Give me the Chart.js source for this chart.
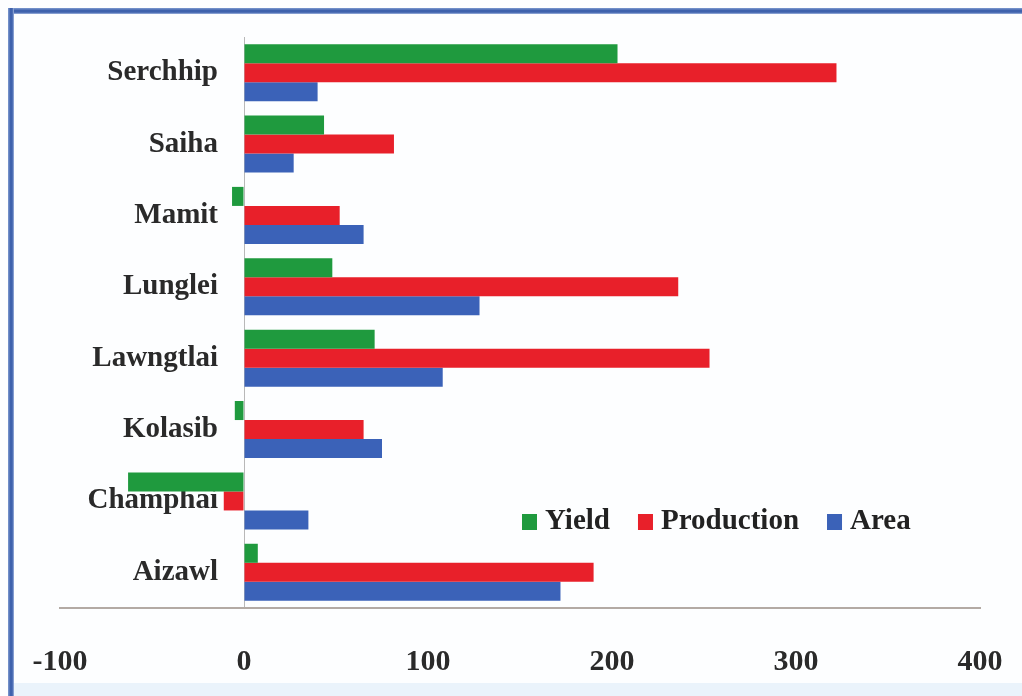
<!DOCTYPE html>
<html>
<head>
<meta charset="utf-8">
<script src="https://cdn.jsdelivr.net/npm/chart.js@4"></script>
<style>
  html, body { margin: 0; padding: 0; background: #ffffff; }
  #wrap { position: relative; width: 1022px; height: 696px; overflow: hidden; background: #fdfeff; }
  #frameTop { position: absolute; left: 8px; top: 8px; width: 1014px; height: 6px; background: linear-gradient(#7f9bd0, #3f62ad 40%, #3f62ad 70%, #9fb4de); }
  #frameLeft { position: absolute; left: 8px; top: 8px; width: 6px; height: 688px; background: linear-gradient(90deg, #7f9bd0, #3f62ad 40%, #3f62ad 70%, #9fb4de); }
  #bottomBand { position: absolute; left: 14px; top: 683px; width: 1008px; height: 13px; background: #eaf3fb; }
  canvas { position: absolute; left: 0; top: 0; }
</style>
</head>
<body>
<div id="wrap">
  <div id="bottomBand"></div>
  <div id="frameTop"></div>
  <div id="frameLeft"></div>
  <canvas id="c" width="1022" height="696"></canvas>
</div>
<script>
const districts = ["Serchhip", "Saiha", "Mamit", "Lunglei", "Lawngtlai", "Kolasib", "Champhai", "Aizawl"];
const yieldValues = [203, 43.5, -6.5, 48, 71, -5, -63, 7.5];
const productionValues = [322, 81.5, 52, 236, 253, 65, -11, 190];
const areaValues = [40, 27, 65, 128, 108, 75, 35, 172];
const xTickMin = -100;
const xTickMax = 400;
const xTickStep = 100;

const serif = "'Liberation Serif', 'Times New Roman', serif";

const insideLegend = {
  id: 'insideLegend',
  afterDraw(chart) {
    const ctx = chart.ctx;
    const area = chart.chartArea;
    ctx.save();
    ctx.font = "bold 29px " + serif;
    ctx.textBaseline = 'middle';
    ctx.textAlign = 'left';
    let x = area.left + 462;
    const y = area.top + 485;
    chart.data.datasets.forEach((ds) => {
      ctx.fillStyle = ds.backgroundColor;
      ctx.fillRect(x, y - 8, 15, 16);
      x += 23;
      ctx.fillStyle = '#222222';
      ctx.fillText(ds.label, x, y);
      x += ctx.measureText(ds.label).width + 28;
    });
    ctx.restore();
  }
};

// Keep the category labels just left of the zero line (as in the original)
const shiftCategoryLabels = {
  id: 'shiftCategoryLabels',
  beforeDraw(chart) {
    const items = chart.scales.y.getLabelItems();
    items.forEach((it) => {
      if (!it._shifted) {
        it.options.translation[0] -= 26;
        it._shifted = true;
      }
    });
  }
};

new Chart(document.getElementById('c'), {
  type: 'bar',
  data: {
    labels: districts,
    datasets: [
      { label: 'Yield', data: yieldValues, backgroundColor: '#1f9a3e' },
      { label: 'Production', data: productionValues, backgroundColor: '#e8202a' },
      { label: 'Area', data: areaValues, backgroundColor: '#3b62b8' }
    ]
  },
  options: {
    indexAxis: 'y',
    responsive: false,
    animation: false,
    maintainAspectRatio: false,
    layout: { padding: { left: 60, right: 42, top: 37, bottom: 16 } },
    datasets: { bar: { categoryPercentage: 0.8, barPercentage: 1.0 } },
    plugins: { legend: { display: false }, tooltip: { enabled: false } },
    scales: {
      x: {
        min: xTickMin, max: xTickMax,
        afterFit: (scale) => { scale.height = 72; scale.paddingRight = 0; scale.paddingLeft = 0; },
        ticks: { stepSize: xTickStep, padding: 36, color: '#2a2a2a', font: { family: serif, size: 30, weight: 'bold' } },
        grid: {
          color: (c) => (c.tick && c.tick.value === 0 ? '#b8b8b8' : 'rgba(0,0,0,0)'),
          lineWidth: 1,
          drawTicks: false
        },
        border: { display: true, color: '#b3aaa4', width: 2 }
      },
      y: {
        position: { x: 0 },
        ticks: { color: '#2a2a2a', font: { family: serif, size: 29, weight: 'bold' } },
        grid: { display: false, drawTicks: false },
        border: { display: false }
      }
    }
  },
  plugins: [shiftCategoryLabels, insideLegend]
});
</script>
</body>
</html>
